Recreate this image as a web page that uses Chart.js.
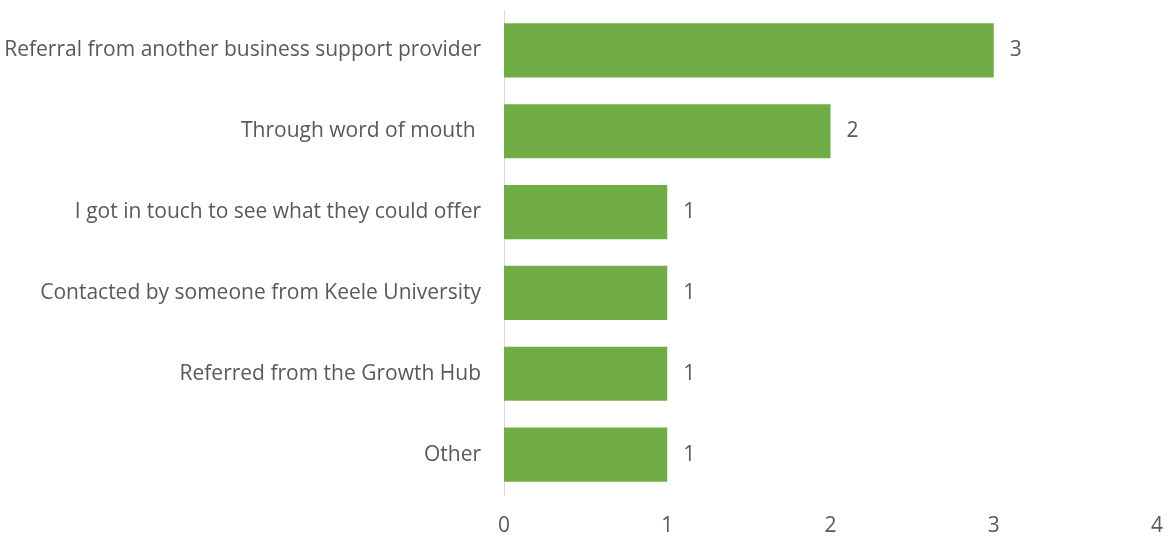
<!DOCTYPE html>
<html>
<head>
<meta charset="utf-8">
<script src="https://cdn.jsdelivr.net/npm/chart.js@4/dist/chart.umd.min.js"></script>
<style>
  html, body { margin: 0; padding: 0; background: #fff; }
  #wrap { width: 1168px; height: 536px; }
</style>
</head>
<body>
<div id="wrap"><canvas id="sourceChart"></canvas></div>
<script>
const categories = [
  "Referral from another business support provider",
  "Through word of mouth ",
  "I got in touch to see what they could offer",
  "Contacted by someone from Keele University",
  "Referred from the Growth Hub",
  "Other"
];
const counts = [3, 2, 1, 1, 1, 1];
const xTicks = [0, 1, 2, 3, 4];

const textColor = "#595959";
const fontFamily = "'Open Sans', sans-serif";
const fontSize = 21;

// writes the value just past the end of each bar
const valueLabels = {
  id: "valueLabels",
  afterDatasetsDraw(chart) {
    const ctx = chart.ctx;
    const meta = chart.getDatasetMeta(0);
    ctx.save();
    ctx.fillStyle = textColor;
    ctx.font = fontSize + "px " + fontFamily;
    ctx.textAlign = "left";
    ctx.textBaseline = "middle";
    meta.data.forEach((bar, i) => {
      ctx.fillText(String(counts[i]), bar.x + 16, bar.y);
    });
    ctx.restore();
  }
};

new Chart(document.getElementById("sourceChart"), {
  type: "bar",
  data: {
    labels: categories,
    datasets: [{
      data: counts,
      backgroundColor: "#70AD47",
      categoryPercentage: 1,
      barPercentage: 0.67
    }]
  },
  options: {
    indexAxis: "y",
    responsive: true,
    maintainAspectRatio: false,
    animation: false,
    layout: { padding: { top: 10, right: 11, left: 0, bottom: 0 } },
    plugins: { legend: { display: false }, tooltip: { enabled: false } },
    scales: {
      x: {
        min: 0,
        max: 4,
        afterBuildTicks(scale) { scale.ticks = xTicks.map(v => ({ value: v })); },
        afterFit(scale) {
          scale.height = 41;
          scale.paddingLeft = 0;
          scale.paddingRight = 0;
        },
        grid: { display: false },
        border: { display: false },
        ticks: { color: textColor, font: { family: fontFamily, size: fontSize }, padding: 10 }
      },
      y: {
        afterFit(scale) {
          scale.width = 504;
          scale.paddingTop = 0;
          scale.paddingBottom = 0;
        },
        grid: { display: false },
        border: { display: true, color: "#D9D9D9", width: 1 },
        ticks: { color: textColor, font: { family: fontFamily, size: fontSize }, padding: 15 }
      }
    }
  },
  plugins: [valueLabels]
});
</script>
</body>
</html>
